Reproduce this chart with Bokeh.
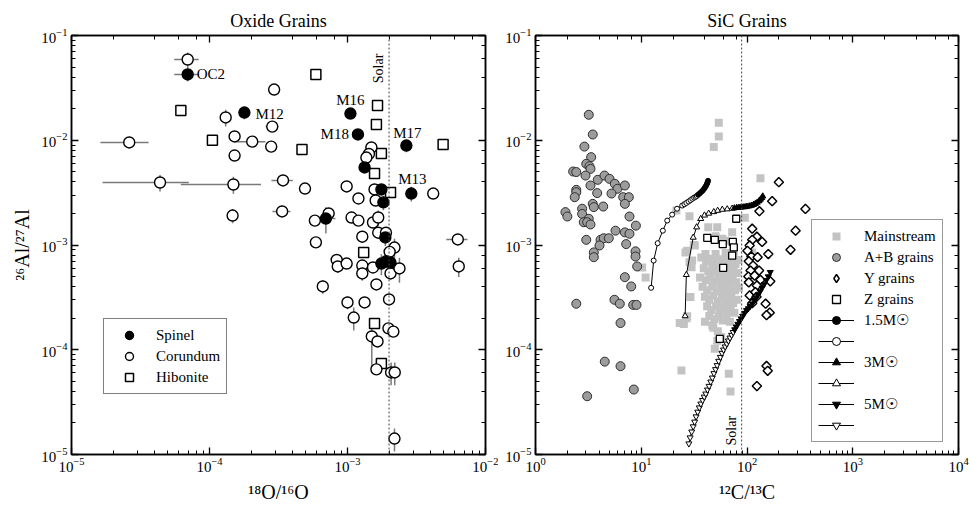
import numpy as np
from bokeh.plotting import figure
from bokeh.models import LogAxis, Legend, LegendItem, Span
from bokeh.layouts import row
from bokeh.core.properties import value
from bokeh.embed import file_html
from bokeh.resources import INLINE

FONT = "Liberation Serif"

# ---------------- Oxide grains (left) ----------------
sp_x = [6.95e-5, 1.79e-4, 1.05e-3, 1.19e-3, 2.67e-3, 2.90e-3, 1.33e-3, 1.76e-3, 1.82e-3, 6.97e-4, 1.88e-3, 1.76e-3, 1.91e-3, 2.05e-3]
sp_y = [4.25e-2, 1.84e-2, 1.80e-2, 1.135e-2, 8.9e-3, 3.1e-3, 5.5e-3, 3.39e-3, 2.55e-3, 1.79e-3, 1.18e-3, 6.65e-4, 7.0e-4, 6.8e-4]
sp_xerr = [1.4e-5, 0, 0, 0, 0, 0, 0, 0, 0, 1.2e-4, 0, 0, 0, 0]
sp_yerr = [6e-3, 2.5e-3, 0, 0, 1.2e-3, 5e-4, 0, 0, 4e-4, 5e-4, 2e-4, 1.5e-4, 1e-4, 1e-4]
sp_names = ["OC2", "M12", "M16", "M18", "M17", "M13"]

co_x = [6.95e-5, 1.31e-4, 2.94e-4, 2.85e-4, 2.62e-5, 1.52e-4, 2.04e-4, 2.80e-4, 1.52e-4, 1.49e-3,
        1.43e-3, 1.37e-3, 4.38e-5, 1.49e-4, 3.41e-4, 4.92e-4, 9.86e-4, 1.20e-3, 1.57e-3, 4.18e-3,
        1.60e-3, 1.47e-4, 3.36e-4, 7.30e-4, 5.80e-4, 1.07e-3, 1.20e-3, 1.53e-3, 1.67e-3, 5.90e-4,
        1.28e-3, 1.67e-3, 1.90e-3, 2.19e-3, 6.30e-3, 2.02e-3, 8.35e-4, 8.50e-4, 9.86e-4, 1.28e-3,
        1.28e-3, 1.53e-3, 2.05e-3, 2.38e-3, 6.40e-3, 6.62e-4, 1.62e-3, 1.00e-3, 1.33e-3, 2.00e-3,
        1.11e-3, 1.98e-3, 2.15e-3, 1.50e-3, 1.65e-3, 1.62e-3, 2.07e-3, 2.20e-3, 2.19e-3]
co_y = [5.9e-2, 1.65e-2, 3.05e-2, 1.35e-2, 9.53e-3, 1.087e-2, 9.7e-3, 8.7e-3, 7.15e-3, 8.53e-3,
        7.4e-3, 6.84e-3, 3.95e-3, 3.78e-3, 4.13e-3, 3.46e-3, 3.62e-3, 2.78e-3, 3.39e-3, 3.10e-3,
        2.66e-3, 1.91e-3, 2.09e-3, 2.00e-3, 1.71e-3, 1.83e-3, 1.71e-3, 1.64e-3, 1.83e-3, 1.06e-3,
        1.20e-3, 1.31e-3, 1.31e-3, 9.46e-4, 1.13e-3, 8.6e-4, 7.2e-4, 6.24e-4, 6.65e-4, 6.37e-4,
        5.35e-4, 6.10e-4, 5.35e-4, 5.97e-4, 6.24e-4, 4.02e-4, 4.20e-4, 2.83e-4, 2.83e-4, 3.02e-4,
        2.03e-4, 1.60e-4, 1.49e-4, 1.34e-4, 1.20e-4, 6.5e-5, 6.07e-5, 6.07e-5, 1.42e-5]
co_xerr = [1.4e-5, 0, 0, 3.0e-5, 1.0e-5, 0, 5.0e-5, 0, 0, 1.5e-4,
           0, 0, 2.7e-5, 8.7e-5, 6.0e-5, 0, 0, 0, 0, 0,
           0, 0, 5e-5, 0, 0, 0, 0, 0, 0, 0,
           0, 0, 0, 0, 1.1e-3, 0, 0, 0, 0, 0,
           0, 0, 0, 0, 0, 0, 0, 0, 0, 0,
           0, 0, 0, 0, 0, 0, 0, 0, 0]
co_yerr = [1.0e-2, 3.0e-3, 0, 0, 0, 0, 0, 0, 0, 0,
           0, 0, 7e-4, 7e-4, 0, 0, 0, 0, 0, 0,
           0, 3e-4, 0, 0, 0, 0, 0, 0, 3e-4, 0,
           0, 0, 0, 2e-4, 0, 0, 0, 8e-5, 0, 0,
           8e-5, 0, 0, 1.6e-4, 1.3e-4, 6e-5, 0, 4e-5, 0, 0,
           5e-5, 0, 0, 6.5e-5, 0, 0, 1.5e-5, 1.5e-5, 3.5e-6]

hb_x = [6.2e-5, 5.9e-4, 1.05e-4, 4.68e-4, 1.65e-3, 1.62e-3, 1.76e-3, 1.57e-3, 2.05e-3, 4.93e-3, 1.31e-3, 1.57e-3, 1.76e-3]
hb_y = [1.92e-2, 4.25e-2, 1.0e-2, 8.17e-3, 2.15e-2, 1.41e-2, 7.48e-3, 4.82e-3, 3.17e-3, 9.1e-3, 8.47e-4, 1.78e-4, 7.4e-5]
hb_xerr = [5e-6, 0, 0, 0, 0, 0, 0, 0, 0, 0, 0, 0, 0]
hb_yerr = [0, 0, 0, 0, 0, 0, 0, 0, 0, 0, 0, 0, 0]

solar_O = 2.0e-3
solar_C = 89.0

# ---------------- SiC grains (right) ----------------
ab_x = [3.19, 3.48, 2.9, 3.36, 3.02, 3.24, 3.31, 2.27, 2.43, 2.97, 3.88, 4.49, 5.01, 5.62, 5.96, 7.0, 3.31,
        2.43, 2.43, 2.35, 3.83, 5.23, 6.75, 7.63, 7.0, 3.48, 3.56, 4.37, 1.92, 2.0, 2.76, 2.76, 3.19, 2.86,
        3.08, 3.31, 7.74, 8.9, 5.71, 7.0, 7.74, 3.02, 4.12, 4.42, 4.93, 4.03, 7.2, 8.83, 3.56, 3.56, 8.83,
        9.15, 7.0, 8.04, 2.43, 5.58, 6.27, 8.39, 9.02, 6.37, 4.52, 6.37, 3.08, 8.51]
ab_y = [1.75e-2, 1.135e-2, 8.7e-3, 6.9e-3, 5.96e-3, 5.65e-3, 5.33e-3, 5.03e-3, 4.97e-3, 4.6e-3, 4.19e-3,
        4.6e-3, 4.28e-3, 3.84e-3, 3.44e-3, 3.7e-3, 3.7e-3, 3.36e-3, 3.19e-3, 2.86e-3, 3.13e-3, 3.1e-3,
        2.86e-3, 2.86e-3, 2.47e-3, 2.47e-3, 2.3e-3, 2.33e-3, 2.06e-3, 1.87e-3, 2.22e-3, 1.98e-3, 1.78e-3,
        1.65e-3, 1.65e-3, 1.57e-3, 1.87e-3, 1.53e-3, 1.37e-3, 1.32e-3, 1.28e-3, 1.12e-3, 1.12e-3, 1.16e-3,
        1.16e-3, 9.9e-4, 1.02e-3, 8.7e-4, 8.5e-4, 7.65e-4, 7.76e-4, 6.24e-4, 4.93e-4, 4.02e-4, 2.75e-4,
        3.0e-4, 2.75e-4, 2.68e-4, 2.68e-4, 1.8e-4, 7.7e-5, 6.97e-5, 3.6e-5, 4.17e-5]

ms_x = [54.1, 54.1, 48.5, 134, 21.5, 28.6, 95.3, 43, 52.3, 72.4, 32.1, 26.2, 50.5, 58.4, 62.8, 112, 40.5,
        50.5, 62.8, 75, 28.6, 29.9, 10.2, 11.0, 29.2, 23.1, 25.3, 26.8, 27.2, 24.0, 67.3, 69.8, 49.6, 52.3,
        31.4, 27.2, 30.3, 53, 57, 48,
        37, 41, 45, 49, 53, 57, 62, 67, 72, 78, 83,
        39, 43, 47, 51, 55, 60, 65, 70, 75, 81,
        36, 41, 45, 49, 54, 58, 63, 68, 73, 79,
        38, 42, 47, 52, 56, 61, 66, 71, 77, 84,
        40, 44, 48, 53, 58, 63, 68, 74, 80,
        42, 46, 51, 55, 60, 65, 70, 76,
        44, 49, 54, 59, 64, 69, 40, 47]
ms_y = [1.466e-2, 1.087e-2, 8.6e-3, 4.34e-3, 2.13e-3, 1.88e-3, 1.82e-3, 1.48e-3, 1.48e-3, 1.32e-3, 9.9e-4,
        8.5e-4, 1.21e-3, 1.15e-3, 1.1e-3, 8.5e-4, 8.2e-4, 8.2e-4, 8.4e-4, 8.6e-4, 6.85e-4, 6.14e-4, 6.1e-4,
        4.9e-4, 3.18e-4, 1.8e-4, 1.76e-4, 2.0e-4, 2.09e-4, 6.34e-5, 5.9e-5, 4.0e-5, 1.02e-4, 1.22e-4,
        1.0e-3, 8.8e-4, 7.1e-4, 1.5e-4, 1.32e-4, 1.62e-4,
        7.6e-4, 7.0e-4, 7.4e-4, 6.8e-4, 7.3e-4, 6.6e-4, 7.1e-4, 6.5e-4, 7.0e-4, 6.6e-4, 7.2e-4,
        6.0e-4, 5.6e-4, 6.1e-4, 5.5e-4, 5.9e-4, 5.4e-4, 5.8e-4, 5.3e-4, 5.7e-4, 5.4e-4,
        4.9e-4, 4.6e-4, 5.0e-4, 4.5e-4, 4.8e-4, 4.4e-4, 4.7e-4, 4.3e-4, 4.6e-4, 4.4e-4,
        4.0e-4, 3.7e-4, 4.0e-4, 3.6e-4, 3.9e-4, 3.5e-4, 3.8e-4, 3.5e-4, 3.7e-4, 3.9e-4,
        3.2e-4, 3.0e-4, 3.3e-4, 2.9e-4, 3.2e-4, 2.85e-4, 3.1e-4, 2.8e-4, 3.0e-4,
        2.6e-4, 2.4e-4, 2.6e-4, 2.35e-4, 2.55e-4, 2.3e-4, 2.5e-4, 2.25e-4,
        2.1e-4, 1.95e-4, 2.05e-4, 1.9e-4, 2.0e-4, 1.85e-4, 1.85e-4, 1.7e-4]

z_x = [79.1, 42.1, 49.6, 59.0, 73.5, 75.0, 72.4, 59.5, 55.3]
z_y = [1.78e-3, 1.17e-3, 1.12e-3, 1.02e-3, 1.07e-3, 9.5e-4, 7.9e-4, 6.05e-4, 1.27e-4]

y_x = [200, 173, 131, 357, 288, 258, 112, 124, 139, 112, 106, 159, 101, 110, 126, 104, 114, 130, 108,
       103, 118, 134, 166, 104, 124, 106, 120, 123, 112, 150, 164, 153, 153, 157, 124]
y_y = [3.98e-3, 2.62e-3, 2.1e-3, 2.21e-3, 1.37e-3, 9.0e-4, 1.43e-3, 1.2e-3, 1.07e-3, 1.12e-3, 9.9e-4,
       8.2e-4, 8.8e-4, 7.76e-4, 7.65e-4, 7.0e-4, 6.37e-4, 5.7e-4, 5.7e-4, 5.0e-4, 5.1e-4, 4.65e-4,
       4.5e-4, 4.4e-4, 4.1e-4, 3.3e-4, 3.55e-4, 3.2e-4, 2.78e-4, 2.75e-4, 2.26e-4, 2.14e-4, 7.0e-5,
       6.3e-5, 4.5e-5]

# AGB model tracks (open = O-rich part, filled = C-rich part)
m15_open_x = [12.4, 13.1, 14.3, 16.0, 17.6, 19.6, 21.8, 24.4, 25.6, 26.7, 28.0, 29.2, 30.4, 31.6, 32.6, 33.5]
m15_open_y = [3.9e-4, 7.1e-4, 1.04e-3, 1.37e-3, 1.71e-3, 1.95e-3, 2.22e-3, 2.38e-3, 2.45e-3, 2.52e-3,
              2.6e-3, 2.68e-3, 2.76e-3, 2.83e-3, 2.88e-3, 2.94e-3]
m15_fill_x = [34.5, 35.6, 36.8, 38.0, 39.1, 40.1, 41.0, 41.7, 42.3, 42.8]
m15_fill_y = [3.02e-3, 3.1e-3, 3.2e-3, 3.3e-3, 3.42e-3, 3.55e-3, 3.68e-3, 3.82e-3, 3.96e-3, 4.1e-3]

m3_open_x = [26.0, 26.7, 31.0, 33.4, 36.5, 39.6, 43.4, 48.5, 52.8, 58.4, 65.0, 72.4]
m3_open_y = [2.1e-4, 5.2e-4, 1.18e-3, 1.48e-3, 1.78e-3, 1.92e-3, 2.0e-3, 2.07e-3, 2.13e-3, 2.18e-3, 2.2e-3, 2.23e-3]
m3_fill_x = [76, 80, 84, 88, 92, 96, 100, 105, 110, 115, 120, 125, 130, 134, 138, 141]
m3_fill_y = [2.25e-3, 2.27e-3, 2.28e-3, 2.29e-3, 2.3e-3, 2.31e-3, 2.33e-3, 2.35e-3, 2.38e-3, 2.42e-3,
             2.48e-3, 2.55e-3, 2.63e-3, 2.72e-3, 2.82e-3, 2.92e-3]

m5_open_x = [28.2, 29.0, 30.0, 31.0, 32.0, 33.0, 34.2, 35.4, 36.6, 38.0, 39.4, 40.8, 42.3, 43.8, 45.4,
             47.0, 48.7, 50.4, 52.2, 54.0, 56.0, 58.0, 60.0, 62.2, 64.4, 66.7, 69.0, 71.5, 74.0]
m5_open_y = [1.27e-5, 1.45e-5, 1.65e-5, 1.85e-5, 2.05e-5, 2.3e-5, 2.55e-5, 2.8e-5, 3.05e-5, 3.3e-5,
             3.55e-5, 3.8e-5, 4.15e-5, 4.5e-5, 4.95e-5, 5.4e-5, 5.95e-5, 6.5e-5, 7.1e-5, 7.8e-5, 8.5e-5,
             9.3e-5, 1.0e-4, 1.07e-4, 1.14e-4, 1.22e-4, 1.3e-4, 1.38e-4, 1.47e-4]
m5_fill_x = [76.5, 79, 82, 85, 88, 91, 95, 99, 103, 107, 112, 117, 122, 127, 133, 139, 145, 152, 159, 166]
m5_fill_y = [1.56e-4, 1.66e-4, 1.76e-4, 1.87e-4, 1.98e-4, 2.1e-4, 2.24e-4, 2.38e-4, 2.48e-4, 2.6e-4,
             2.75e-4, 2.95e-4, 3.15e-4, 3.35e-4, 3.6e-4, 3.9e-4, 4.2e-4, 4.6e-4, 5.0e-4, 5.5e-4]

NAN = float("nan")

# ---------------- helpers ----------------
def new_fig(xr, yr, width, bl, br, title):
    p = figure(width=width, height=506, x_axis_type="log", y_axis_type="log",
               x_range=xr, y_range=yr, output_backend="svg", toolbar_location=None,
               min_border_left=bl, min_border_right=br, min_border_top=35, min_border_bottom=52,
               title=title)
    p.grid.visible = False
    p.outline_line_color = "black"
    p.outline_line_width = 1.5
    p.background_fill_color = "white"
    p.border_fill_color = "white"
    p.title.align = "center"
    p.title.text_font = FONT
    p.title.text_font_size = "18px"
    p.title.text_font_style = "normal"
    p.title.text_color = "black"
    bottom = p.below[0]
    left = p.left[0]
    top = LogAxis()
    rgt = LogAxis()
    p.add_layout(top, "above")
    p.add_layout(rgt, "right")
    for ax in [bottom, left, top, rgt]:
        ax.axis_line_width = 1.5
        ax.axis_line_color = "black"
        ax.major_tick_in = 7
        ax.major_tick_out = 0
        ax.minor_tick_in = 4
        ax.minor_tick_out = 0
        ax.major_tick_line_width = 1.3
        ax.minor_tick_line_width = 1
        ax.major_tick_line_color = "black"
        ax.minor_tick_line_color = "black"
        ax.major_label_text_font = FONT
        ax.major_label_text_font_size = "15px"
        ax.major_label_text_color = "black"
        ax.axis_label_text_font = FONT
        ax.axis_label_text_font_size = "20px"
        ax.axis_label_text_font_style = "normal"
        ax.axis_label_text_color = "black"
    for ax in [top, rgt]:
        ax.major_label_text_font_size = "1px"
        ax.major_label_text_alpha = 0
        ax.major_label_standoff = 0
    bottom.major_label_standoff = 3
    left.major_label_standoff = 4
    bottom.axis_label_standoff = 6
    return p, bottom, left


def err_segments(p, x, y, xe, ye, color="#7a7a7a"):
    x, y, xe, ye = map(np.asarray, (x, y, xe, ye))
    mx = xe > 0
    my = ye > 0
    if mx.any():
        p.segment(x0=x[mx] - xe[mx], y0=y[mx], x1=x[mx] + xe[mx], y1=y[mx], line_color=color, line_width=1.5)
    if my.any():
        p.segment(x0=x[my], y0=y[my] - ye[my], x1=x[my], y1=y[my] + ye[my], line_color=color, line_width=1.5)


# ---------------- left figure ----------------
p1, b1, l1 = new_fig((1e-5, 1e-2), (1e-5, 1e-1), 498, 71, 13, "Oxide Grains")
b1.axis_label = "¹⁸O/¹⁶O"
l1.axis_label = "²⁶Al/²⁷Al"

p1.add_layout(Span(location=solar_O, dimension="height", line_color="#444444", line_width=1, line_dash="2 2"))

err_segments(p1, co_x, co_y, co_xerr, co_yerr)
err_segments(p1, hb_x, hb_y, hb_xerr, hb_yerr)
err_segments(p1, sp_x, sp_y, sp_xerr, sp_yerr)

r_hb = p1.scatter(hb_x, hb_y, marker="square", size=10, fill_color="white", line_color="black", line_width=1.5)
r_co = p1.scatter(co_x, co_y, marker="circle", size=11, fill_color="white", line_color="black", line_width=1.4)
r_sp = p1.scatter(sp_x, sp_y, marker="circle", size=11, fill_color="black", line_color="black", line_width=1.4)

# grain name labels
lab_cfg = [  # (x_offset, y_offset, align)
    (9, 0, "left"), (11, 1, "left"), (0, -14, "center"), (-9, 0, "right"), (1, -13, "center"), (1, -15, "center")]
for i, name in enumerate(sp_names):
    dx, dy, al = lab_cfg[i]
    p1.text(x=[sp_x[i]], y=[sp_y[i]], text=[name], x_offset=dx, y_offset=dy, text_align=al,
            text_baseline="middle", text_font=value(FONT), text_font_size="15px", text_color="black")

p1.text(x=[solar_O], y=[3.5e-2], text=["Solar"], angle=np.pi / 2, x_offset=-3, text_align="left",
        text_baseline="bottom", text_font=value(FONT), text_font_size="14px", text_color="black")

leg1 = Legend(items=[LegendItem(label=value("Spinel"), renderers=[r_sp]),
                     LegendItem(label=value("Corundum"), renderers=[r_co]),
                     LegendItem(label=value("Hibonite"), renderers=[r_hb])],
              location=(32, 60), orientation="vertical")
leg1.label_text_font = FONT
leg1.label_text_font_size = "15px"
leg1.label_text_color = "black"
leg1.border_line_color = "black"
leg1.border_line_width = 1
leg1.padding = 6
leg1.spacing = 1
leg1.margin = 0
leg1.glyph_width = 38
leg1.glyph_height = 20
leg1.label_height = 20
leg1.label_standoff = 8
leg1.background_fill_alpha = 1
p1.add_layout(leg1, "center")

# ---------------- right figure ----------------
p2, b2, l2 = new_fig((1, 1e4), (1e-5, 1e-1), 471, 37, 11, "SiC Grains")
b2.axis_label = "¹²C/¹³C"

p2.add_layout(Span(location=solar_C, dimension="height", line_color="#444444", line_width=1, line_dash="2 2"))

r_ms = p2.scatter(ms_x, ms_y, marker="square", size=8, fill_color="#c3c3c3", line_color=None)
r_ab = p2.scatter(ab_x, ab_y, marker="circle", size=9, fill_color="#9c9c9c", line_color="#2e2e2e", line_width=1)
r_z = p2.scatter(z_x, z_y, marker="square", size=7, fill_color="white", line_color="black", line_width=1.3)
r_y = p2.scatter(y_x, y_y, marker="square", angle=np.pi / 4, size=6.5, fill_color="white", line_color="black", line_width=1.5)
# legend-only swatch for the Y grains (a NaN point is never drawn in the plot)
r_yleg = p2.scatter([NAN], [NAN], marker="diamond", size=11, fill_color="white", line_color="black", line_width=1.5)

l15 = p2.line(m15_open_x + m15_fill_x, m15_open_y + m15_fill_y, line_color="black", line_width=1)
r15o = p2.scatter(m15_open_x, m15_open_y, marker="circle", size=5, fill_color="white", line_color="black", line_width=1)
r15f = p2.scatter(m15_fill_x, m15_fill_y, marker="circle", size=5, fill_color="black", line_color="black", line_width=1)

l3 = p2.line(m3_open_x + m3_fill_x, m3_open_y + m3_fill_y, line_color="black", line_width=1)
r3o = p2.scatter(m3_open_x, m3_open_y, marker="triangle", size=6, fill_color="white", line_color="black", line_width=1)
r3f = p2.scatter(m3_fill_x, m3_fill_y, marker="triangle", size=6, fill_color="black", line_color="black", line_width=1)

l5 = p2.line(m5_open_x + m5_fill_x, m5_open_y + m5_fill_y, line_color="black", line_width=1)
r5o = p2.scatter(m5_open_x, m5_open_y, marker="inverted_triangle", size=6, fill_color="white", line_color="black", line_width=1)
r5f = p2.scatter(m5_fill_x, m5_fill_y, marker="inverted_triangle", size=6, fill_color="black", line_color="black", line_width=1)

p2.text(x=[solar_C], y=[1.22e-5], text=["Solar"], angle=np.pi / 2, x_offset=-3, text_align="left",
        text_baseline="bottom", text_font=value(FONT), text_font_size="14px", text_color="black")

leg2 = Legend(items=[LegendItem(label=value("Mainstream"), renderers=[r_ms]),
                     LegendItem(label=value("A+B grains"), renderers=[r_ab]),
                     LegendItem(label=value("Y grains"), renderers=[r_yleg]),
                     LegendItem(label=value("Z grains"), renderers=[r_z]),
                     LegendItem(label=value("1.5M☉"), renderers=[l15, r15f]),
                     LegendItem(label=value(" "), renderers=[l15, r15o]),
                     LegendItem(label=value("3M☉"), renderers=[l3, r3f]),
                     LegendItem(label=value(" "), renderers=[l3, r3o]),
                     LegendItem(label=value("5M☉"), renderers=[l5, r5f]),
                     LegendItem(label=value(" "), renderers=[l5, r5o])],
              location=(276, 12), orientation="vertical")
leg2.label_text_font = FONT
leg2.label_text_font_size = "15px"
leg2.label_text_color = "black"
leg2.border_line_color = "#333333"
leg2.border_line_width = 1
leg2.padding = 6
leg2.spacing = 1
leg2.margin = 0
leg2.glyph_width = 36
leg2.glyph_height = 20
leg2.label_height = 20
leg2.label_standoff = 10
leg2.background_fill_alpha = 1
p2.add_layout(leg2, "center")

layout = row(p1, p2)
open("out.html", "w").write(file_html(layout, INLINE))
